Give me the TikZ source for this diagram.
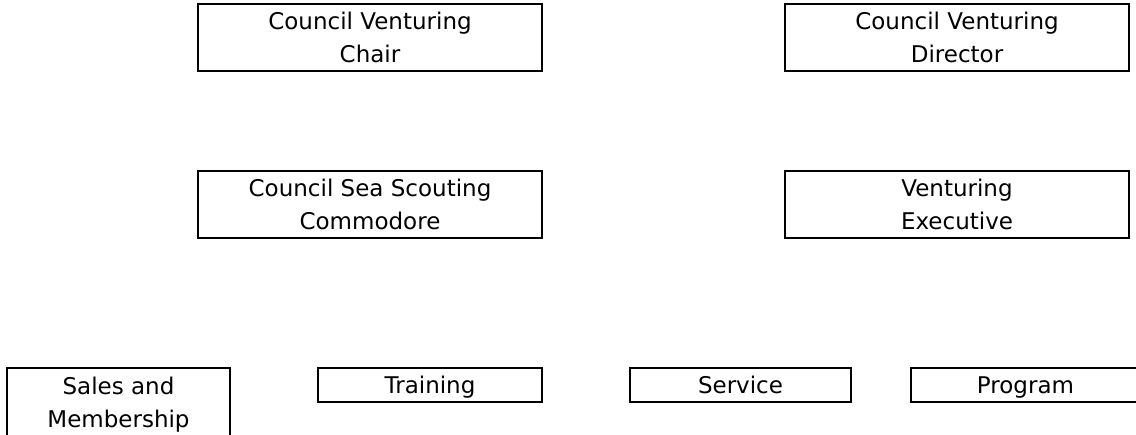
\documentclass[tikz,border=0pt]{standalone}
\usepackage{fontspec}
\setmainfont{DejaVu Sans}
\begin{document}
\begin{tikzpicture}[x=0.75pt,y=-0.75pt,
  box/.style={draw, line width=1.5pt, rectangle, inner sep=0pt, align=center,
    text depth=0pt, font=\fontsize{17.25}{24.75}\selectfont},
  bigbox/.style={box, minimum width=258pt, minimum height=50.25pt},
  smallbox/.style={box, minimum width=167.25pt, minimum height=25.5pt},
  onelinebox/.style={smallbox, text height=12.6pt},
]
\useasboundingbox (0,0) rectangle (1136,435);
\clip (0,0) rectangle (1136,435);
\node[bigbox] (chair) at (370,37.5) {Council Venturing\\Chair};
\node[bigbox] (director) at (957,37.5) {Council Venturing\\Director};
\node[bigbox] (commodore) at (370,204.5) {Council Sea Scouting\\Commodore};
\node[bigbox] (executive) at (957,204.5) {Venturing\\Executive};
\node[smallbox, minimum height=51pt] (sales) at (118.5,402) {Sales and\\Membership};
\node[onelinebox, minimum width=168pt] (training) at (430,385) {Training};
\node[onelinebox, minimum width=165.75pt] (service) at (740.5,385) {Service};
\node[onelinebox, minimum width=171.75pt] (program) at (1025.5,385) {Program};
\end{tikzpicture}
\end{document}
